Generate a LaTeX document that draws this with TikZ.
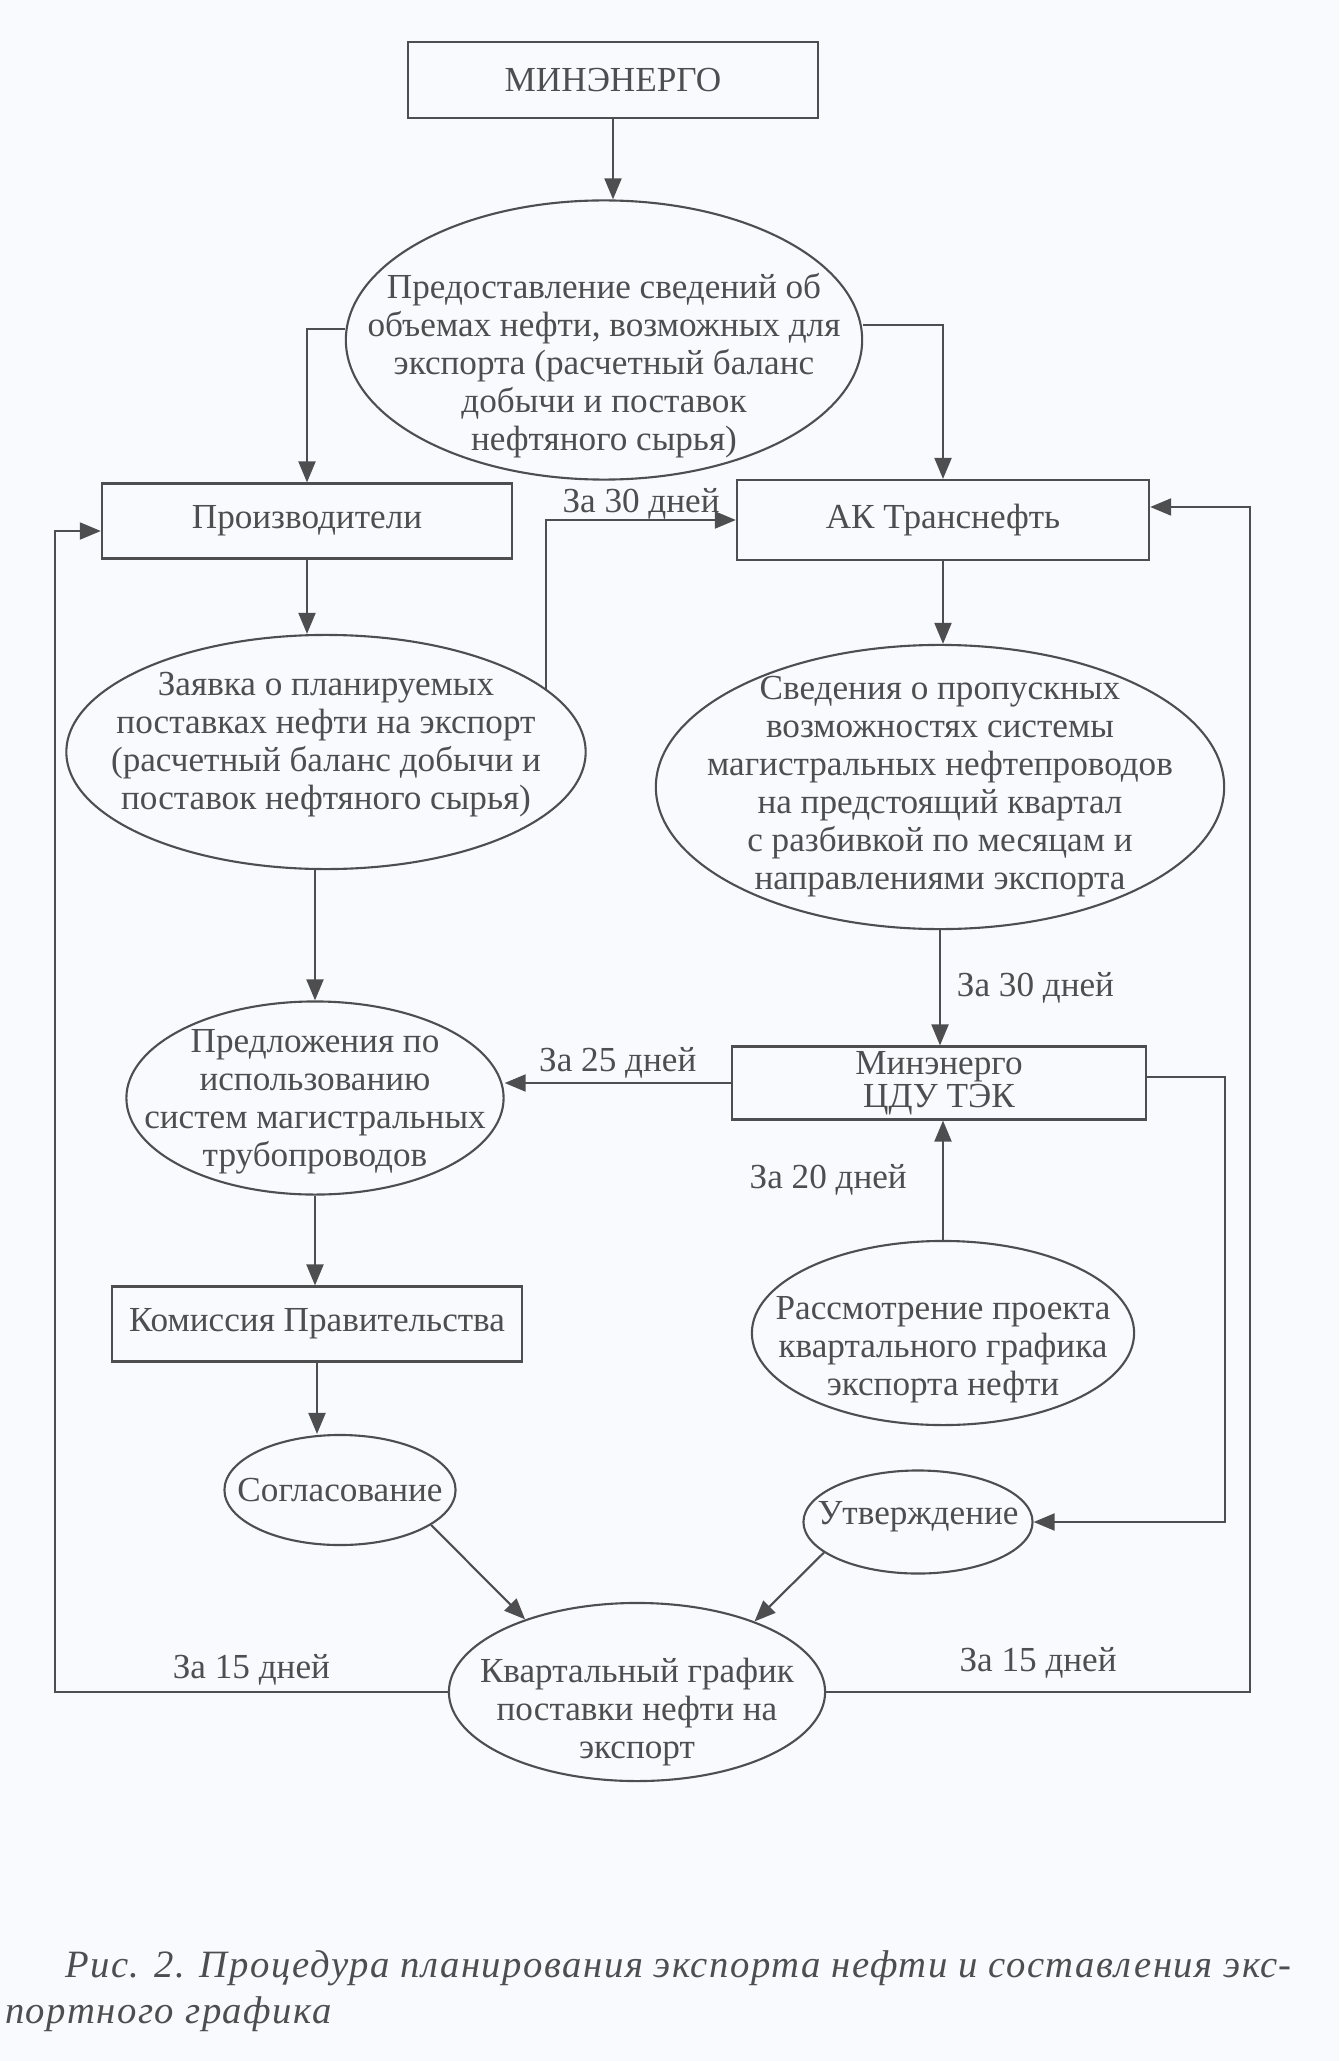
\documentclass[tikz,border=0pt]{standalone}
\usepackage{fontspec}
\setmainfont{Liberation Serif}
\newfontfamily\capfont[LetterSpace=4]{Liberation Serif}
\usetikzlibrary{shapes.geometric,arrows.meta}
\definecolor{ink}{RGB}{78,78,80}
\definecolor{paper}{RGB}{249,250,253}
\tikzset{
  block/.style={draw=ink, rectangle, inner sep=0pt, text=ink, align=center, font=\fontsize{10}{9.4}\selectfont},
  oval/.style={draw=ink, ellipse, inner sep=0pt},
  ovaltext/.style={text=ink, align=center, inner sep=0pt, font=\fontsize{10}{10.8}\selectfont},
  days/.style={text=ink, inner sep=1pt, font=\fontsize{10}{10.8}\selectfont}
}
\begin{document}
\begin{tikzpicture}[x=0.01cm, y=-0.01cm, color=ink, line width=0.6pt, >={Triangle[length=2.1mm, width=1.7mm]}]
\fill[paper] (0,0) rectangle (1339,2061);
\useasboundingbox (0,0) rectangle (1339,2061);

\node[block, minimum width=4.09cm, minimum height=0.76cm] (minenergo) at (613,80) {МИНЭНЕРГО};
\node[oval, minimum width=5.16cm, minimum height=2.79cm, label={[ovaltext, yshift=-0.26cm]center:{Предоставление сведений об\\объемах нефти, возможных для\\экспорта (расчетный баланс\\добычи и поставок\\нефтяного сырья)}}] (info) at (604,340) {};
\node[block, minimum width=4.10cm, minimum height=0.75cm] (producers) at (307,521) {Производители};
\node[block, minimum width=4.12cm, minimum height=0.80cm] (transneft) at (943,520) {АК Транснефть};
\node[oval, minimum width=5.19cm, minimum height=2.34cm, label={[ovaltext, yshift=0.07cm]center:{Заявка о планируемых\\поставках нефти на экспорт\\(расчетный баланс добычи и\\поставок нефтяного сырья)}}] (request) at (326,752) {};
\node[oval, minimum width=5.68cm, minimum height=2.84cm, label={[ovaltext]center:{Сведения о пропускных\\возможностях системы\\магистральных нефтепроводов\\на предстоящий квартал\\с разбивкой по месяцам и\\направлениями экспорта}}] (capacity) at (940,787) {};
\node[oval, minimum width=3.77cm, minimum height=1.93cm, label={[ovaltext, yshift=-0.04cm]center:{Предложения по\\использованию\\систем магистральных\\трубопроводов}}] (offers) at (315,1098) {};
\node[block, minimum width=4.14cm, minimum height=0.73cm] (cdu) at (939,1083) {Минэнерго\\ЦДУ ТЭК};
\node[oval, minimum width=3.82cm, minimum height=1.84cm, label={[ovaltext, yshift=-0.17cm]center:{Рассмотрение проекта\\квартального графика\\экспорта нефти}}] (review) at (943,1333) {};
\node[block, minimum width=4.10cm, minimum height=0.75cm] (commission) at (317,1324) {Комиссия Правительства};
\node[oval, minimum width=2.31cm, minimum height=1.10cm, label={[ovaltext]center:Согласование}] (agree) at (340,1490) {};
\node[oval, minimum width=2.29cm, minimum height=1.03cm, label={[ovaltext, yshift=0.05cm]center:Утверждение}] (confirm) at (918,1522) {};
\node[oval, minimum width=3.76cm, minimum height=1.78cm, label={[ovaltext, yshift=-0.2cm]center:{Квартальный график\\поставки нефти на\\экспорт}}] (schedule) at (637,1692) {};
\coordinate (leftrail) at (55,0);
\coordinate (rightrail) at (1250,0);

\draw[->] (minenergo.south) -- (minenergo.south |- info.north);
\draw[->] ([yshift=0.11cm]info.west) -| (producers.north);
\draw[->] ([yshift=0.15cm]info.east) -| (transneft.north);
\draw[->] (producers.south) -- (producers.south |- request.north);
\draw[->] (request.16) |- node[days, pos=0.75, above, inner sep=0pt] {За 30 дней} (transneft.west);
\draw[->] (transneft.south) -- (transneft.south |- capacity.north);
\draw[->] (offers.north |- request.south) -- (offers.north);
\draw[->] (capacity.south) -- node[days, right=3.5pt] {За 30 дней} (capacity.south |- cdu.north);
\draw[->] (cdu.west) -- node[days, above=0pt] {За 25 дней} (cdu.west -| offers.east);
\draw[->] (review.north) -- node[days, left=9pt] {За 20 дней} (review.north |- cdu.south);
\draw[->] ([yshift=0.06cm]cdu.east) -- ++(78,0) |- (confirm.east);
\draw[->] (offers.south) -- (offers.south |- commission.north);
\draw[->] (commission.south) -- (commission.south |- agree.north);
\draw[->] (agree.-21) -- (schedule.147);
\draw[->] (confirm.198) -- (schedule.31);
\draw[->] (schedule.west) -- node[days, above=0.6pt] {За 15 дней} (schedule.west -| leftrail) |- ([yshift=-0.1cm]producers.west);
\draw[->] (schedule.east) -- node[days, above=2.5pt] {За 15 дней} (schedule.east -| rightrail) |- ([yshift=0.13cm]transneft.east);

\node[anchor=north west, text width=12.86cm, align=justify, inner sep=0pt, text=ink, font=\capfont\itshape\fontsize{11}{13}\selectfont] (caption) at (4,1950) {\hspace*{0.6cm}Рис. 2. Процедура планирования экспорта нефти и составления экс-\linebreak портного графика};
\end{tikzpicture}
\end{document}
